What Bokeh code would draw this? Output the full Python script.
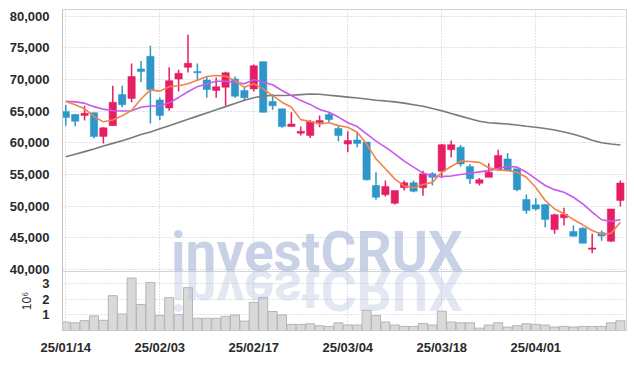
from bokeh.plotting import figure
from bokeh.models import Range1d, FixedTicker, Div, NumeralTickFormatter, ColumnDataSource
from bokeh.layouts import column
from bokeh.embed import file_html
from bokeh.resources import INLINE

dates = ["25/01/14", "25/01/15", "25/01/16", "25/01/17", "25/01/20", "25/01/21", "25/01/22", "25/01/23", "25/01/24", "25/01/31",
         "25/02/03", "25/02/04", "25/02/05", "25/02/06", "25/02/07", "25/02/10", "25/02/11", "25/02/12", "25/02/13", "25/02/14",
         "25/02/17", "25/02/18", "25/02/19", "25/02/20", "25/02/21", "25/02/24", "25/02/25", "25/02/26", "25/02/27", "25/02/28",
         "25/03/04", "25/03/05", "25/03/06", "25/03/07", "25/03/10", "25/03/11", "25/03/12", "25/03/13", "25/03/14", "25/03/17",
         "25/03/18", "25/03/19", "25/03/20", "25/03/21", "25/03/24", "25/03/25", "25/03/26", "25/03/27", "25/03/28", "25/03/31",
         "25/04/01", "25/04/02", "25/04/03", "25/04/04", "25/04/07", "25/04/08", "25/04/09", "25/04/10", "25/04/11", "25/04/14"]

opens = [64950, 64450, 64300, 64750, 61000, 62700, 67600, 67000, 71650, 73650,
         66750, 65500, 70050, 71900, 71250, 69900, 68250, 68750, 70050, 68250,
         68500, 72800, 66500, 65350, 62550, 61500, 61150, 63200, 64450, 62250,
         59800, 60450, 60100, 53250, 51800, 50450, 52900, 53700, 52900, 55100,
         55500, 58900, 59300, 56250, 53600, 54550, 55700, 57450, 55900, 51050,
         50200, 50250, 46300, 48150, 46000, 46500, 43200, 45800, 44450, 50900]
highs = [66000, 64550, 65850, 64750, 62450, 69000, 69000, 72500, 72900, 75300,
         67150, 71900, 71500, 77050, 72500, 70500, 70300, 71200, 70450, 68750,
         72350, 72800, 67700, 65350, 64800, 62550, 63600, 64300, 64800, 62700,
         61800, 61650, 60100, 55350, 54050, 52450, 54050, 54050, 55600, 55350,
         59800, 60350, 59650, 56650, 54450, 56750, 58900, 58400, 55900, 51850,
         51300, 50250, 48800, 49750, 46950, 46650, 45650, 46150, 49550, 54050]
lows = [62700, 62600, 63500, 60700, 59900, 62700, 65600, 66400, 69550, 63050,
        63600, 65050, 68100, 71100, 69800, 67100, 67100, 65850, 67100, 66650,
        68100, 64800, 65200, 62350, 62550, 61150, 60750, 62450, 63250, 60250,
        58500, 59300, 54050, 51000, 51500, 50250, 52450, 52200, 51650, 53250,
        54450, 57700, 56250, 53500, 53250, 54550, 55700, 55600, 52350, 48800,
        49300, 46650, 45650, 46950, 45250, 44150, 42550, 44550, 44350, 49950]
closes = [64000, 63400, 64650, 61000, 62350, 66400, 66000, 70450, 71250, 68350,
          64300, 69800, 70950, 72550, 71050, 68400, 68850, 71050, 67350, 67100,
          72150, 64800, 65850, 62550, 62950, 61800, 63350, 63500, 63650, 61150,
          60350, 59900, 54150, 51400, 53100, 52450, 53700, 52350, 55100, 54550,
          59700, 59700, 56650, 54300, 54150, 55350, 58000, 55600, 52600, 49300,
          49550, 47900, 48650, 48700, 45250, 44150, 43400, 45300, 49550, 53650]

ma5 = [66500, 66000, 65350, 64150, 63300, 63600, 64250, 65100, 66900, 68350,
       68150, 68850, 69000, 69300, 69850, 70450, 70600, 70500, 69800, 68750,
       69300, 68500, 67450, 66400, 65600, 63650, 63350, 62950, 63150, 62700,
       62450, 61650, 59800, 57450, 55900, 54300, 53150, 52900, 53400, 53750,
       55350, 56250, 57100, 57050, 56900, 56050, 55700, 55600, 55350, 54550,
       52950, 50900, 49550, 48800, 47900, 47050, 46150, 45550, 45700, 47450]
ma10 = [66550, 66450, 66250, 65700, 65300, 65050, 65000, 65050, 65600, 65800,
        65850, 66300, 67150, 68050, 68850, 69300, 69700, 69700, 69550, 69300,
        69950, 69550, 69150, 68250, 67450, 66650, 66050, 65250, 64800, 64050,
        63150, 62550, 61400, 60250, 59300, 58250, 57100, 56150, 55200, 54800,
        54650, 54750, 55000, 55200, 55400, 55600, 55950, 56300, 56150, 55350,
        54300, 53250, 52600, 52200, 51400, 50350, 49050, 47850, 47600, 47850]
ma_long = [57800, 58200, 58600, 59000, 59500, 59900, 60300, 60800, 61300, 61700,
           62200, 62700, 63200, 63700, 64200, 64700, 65200, 65700, 66200, 66700,
           67100, 67400, 67450, 67450, 67500, 67600, 67700, 67650, 67500, 67350,
           67200, 67050, 66900, 66700, 66600, 66450, 66250, 66000, 65750, 65400,
           65050, 64600, 64200, 63800, 63400, 63150, 63050, 62950, 62800, 62600,
           62450, 62250, 62000, 61700, 61350, 60900, 60400, 60000, 59800, 59650]

volume_m = [0.54, 0.49, 0.63, 0.93, 0.65, 2.22, 1.05, 3.34, 1.66, 3.06,
            0.95, 2.09, 1.01, 2.73, 0.78, 0.78, 0.78, 0.90, 0.99, 0.60,
            1.79, 2.11, 1.21, 0.99, 0.39, 0.39, 0.43, 0.30, 0.26, 0.49,
            0.35, 0.35, 1.29, 0.95, 0.54, 0.35, 0.26, 0.26, 0.45, 0.35,
            1.23, 0.54, 0.49, 0.49, 0.15, 0.35, 0.49, 0.22, 0.30, 0.43,
            0.39, 0.35, 0.22, 0.26, 0.22, 0.26, 0.26, 0.26, 0.49, 0.62]

price_ticks = [40000, 45000, 50000, 55000, 60000, 65000, 70000, 75000, 80000]
volume_ticks = [1, 2, 3]
tick_every = 10
watermark = "investCRUX"

UP = "#e61e64"
DOWN = "#2e96c8"
FONT = "Liberation Sans"
WM_FONT = "Roboto"
GRID = "#c3c7d9"
LABEL_SIZE = "13px"

idx = list(range(len(dates)))
tick_idx = idx[::tick_every]
colors = [UP if c >= o else DOWN for o, c in zip(opens, closes)]
src = ColumnDataSource(dict(
    x=idx, open=opens, high=highs, low=lows, close=closes,
    top=[max(o, c) for o, c in zip(opens, closes)],
    bottom=[min(o, c) for o, c in zip(opens, closes)],
    color=colors, vol=volume_m, ma5=ma5, ma10=ma10, mal=ma_long))

x_range = Range1d(-0.35, 59.65)

# ---- price pane ----
p = figure(width=630, height=279, x_range=x_range, y_range=Range1d(39684, 81026),
           output_backend="svg", toolbar_location=None,
           min_border_left=62, min_border_right=4, min_border_top=9, min_border_bottom=8)
p.xaxis.visible = False
p.xgrid.ticker = FixedTicker(ticks=tick_idx)
p.yaxis.ticker = FixedTicker(ticks=price_ticks)
p.yaxis.formatter = NumeralTickFormatter(format="0,0")
for g in (p.xgrid, p.ygrid):
    g.grid_line_color = GRID
    g.grid_line_dash = "1 2"
    g.grid_line_width = 1
p.yaxis.major_tick_line_color = None
p.yaxis.minor_tick_line_color = None
p.yaxis.axis_line_color = "#c4c4c4"
p.yaxis.major_label_text_font = FONT
p.yaxis.major_label_text_font_style = "bold"
p.yaxis.major_label_text_font_size = LABEL_SIZE
p.yaxis.major_label_text_color = "#2a2a2a"
p.yaxis.major_label_standoff = 7
p.outline_line_color = "#d4d4d4"

p.segment(x0="x", y0="low", x1="x", y1="high", color="color", line_width=1.5, source=src)
p.vbar(x="x", top="top", bottom="bottom", width=0.78, fill_color="color", line_color="color",
       line_width=0.5, source=src)
p.line("x", "mal", source=src, line_color="#7a7a7a", line_width=1.6)
p.line("x", "ma10", source=src, line_color="#c858ee", line_width=1.6)
p.line("x", "ma5", source=src, line_color="#f0844a", line_width=1.6)

# ---- volume pane ----
v = figure(width=630, height=86, x_range=x_range, y_range=Range1d(0, 3.76),
           output_backend="svg", toolbar_location=None, margin=(-8, 0, 0, 0),
           min_border_left=62, min_border_right=4, min_border_top=0, min_border_bottom=19)
v.background_fill_alpha = 0
v.border_fill_alpha = 0
v.vbar(x="x", top="vol", width=0.96, fill_color="#d9d9d9", line_color="#b5b5b5",
       line_width=1, source=src)
v.xaxis.ticker = FixedTicker(ticks=tick_idx)
v.xaxis.major_label_overrides = {i: dates[i] for i in tick_idx}
v.xgrid.ticker = FixedTicker(ticks=tick_idx)
v.yaxis.ticker = FixedTicker(ticks=volume_ticks)
v.yaxis.axis_label = "10⁶"
v.yaxis.axis_label_text_font = FONT
v.yaxis.axis_label_text_font_style = "normal"
v.yaxis.axis_label_text_font_size = "12px"
v.yaxis.axis_label_text_color = "#2a2a2a"
v.yaxis.axis_label_standoff = 5
for g in (v.xgrid, v.ygrid):
    g.grid_line_color = GRID
    g.grid_line_dash = "1 2"
    g.grid_line_width = 1
for ax in (v.xaxis, v.yaxis):
    ax.major_tick_line_color = None
    ax.minor_tick_line_color = None
    ax.major_label_text_font = FONT
    ax.major_label_text_font_style = "bold"
    ax.major_label_text_font_size = LABEL_SIZE
    ax.major_label_text_color = "#2a2a2a"
v.xaxis.axis_line_color = None
v.xaxis.major_label_standoff = 3
v.yaxis.axis_line_color = "#c4c4c4"
v.yaxis.major_label_standoff = 7
v.outline_line_color = "#d4d4d4"

# ---- watermark with its mirrored reflection (HTML overlay) ----
line_css = "height:56px;line-height:56px;white-space:nowrap;"
wm_html = (
    f'<div style="{line_css}color:rgba(175,187,218,0.68);">{watermark}</div>'
    f'<div style="{line_css}margin-top:-18.4px;transform:scaleY(-1);'
    f'color:rgba(175,187,218,0.36);">{watermark}</div>'
)
wm = Div(text=wm_html, width=300, height=95, margin=(-133, 0, 0, 171),
         styles={"font-family": WM_FONT, "font-weight": "bold", "font-size": "55px",
                 "position": "relative", "z-index": "2", "pointer-events": "none",
                 "overflow": "visible"})

layout = column(p, v, wm)
open("out.html", "w").write(file_html(layout, INLINE))
